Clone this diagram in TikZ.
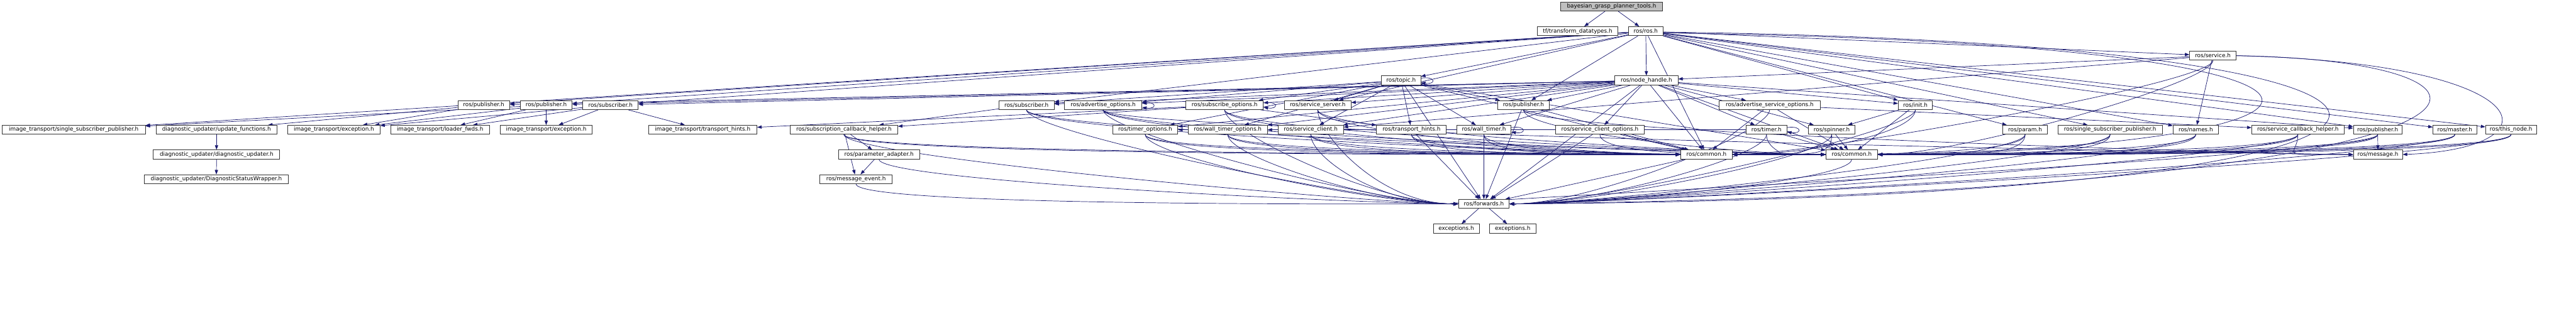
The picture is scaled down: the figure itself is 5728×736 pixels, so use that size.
\documentclass[tikz,border=0pt]{standalone}
\usepackage{fontspec}
\newfontfamily\dvs{DejaVu Sans}
\usetikzlibrary{arrows.meta}
\definecolor{eblue}{HTML}{191970}
\definecolor{bgray}{HTML}{BFBFBF}
\pgfdeclarelayer{backdrop}
\pgfdeclarelayer{edgelayer}
\pgfsetlayers{backdrop,edgelayer,main}
\tikzset{
 box/.style={draw=black!80, fill=white, line width=0.6pt, minimum height=10pt, inner sep=0pt,
   font=\dvs\fontsize{6.2}{7}\selectfont, anchor=center},
 dep/.style={draw=eblue, line width=0.5pt, -{Triangle[length=5pt,width=3.6pt]}},
}
\newcommand\bx[5]{\node[box, minimum width={(#3-#2)*0.5pt}] (#1) at ({(#2+#3)/2},#4) {#5};}
% straight edges
\newcommand\dd[2]{\foreach \t in {#2} {\draw[dep] (#1) -- (\t);}}
% edges entering the target from its left end
\newcommand\dw[2]{\foreach \t in {#2} {\draw[dep] (#1.south) .. controls +(0,50) and ([xshift=-90pt]\t.west) .. (\t.west);}}
% edges entering the target from its right end
\newcommand\de[2]{\foreach \t in {#2} {\draw[dep] (#1.south) .. controls +(0,50) and ([xshift=90pt]\t.east) .. (\t.east);}}
\newcommand\selfloop[1]{\draw[dep] ([yshift=2.5pt]#1.east) .. controls +(34,-5) and +(34,5) .. ([yshift=-2.5pt]#1.east);}
\begin{document}
\begin{tikzpicture}[x=0.5pt,y=-0.5pt]
\begin{pgfonlayer}{backdrop}
\fill[white] (0,0) rectangle (5728,736);
\end{pgfonlayer}
\useasboundingbox (0,0) rectangle (5728,736);
% row 0-2
\node[box, fill=bgray, minimum width={(3697-3470)*0.5pt}] (bg) at ({(3470+3697)/2},14.5) {bayesian\_grasp\_planner\_tools.h};
\bx{tf}{3418}{3598}{69.5}{tf/transform\_datatypes.h}
\bx{ros}{3621}{3698}{69.5}{ros/ros.h}
\bx{service}{4869}{4972}{124}{ros/service.h}
\bx{topic}{3072}{3159}{179}{ros/topic.h}
\bx{nh}{3591}{3731}{179}{ros/node\_handle.h}
% row 3
\bx{pubA}{1018}{1133}{234}{ros/publisher.h}
\bx{pubB}{1157}{1272}{234}{ros/publisher.h}
\bx{subA}{1296}{1419}{234}{ros/subscriber.h}
\bx{subB}{2221}{2344}{234}{ros/subscriber.h}
\bx{advo}{2367}{2539}{234}{ros/advertise\_options.h}
\bx{subo}{2637}{2809}{234}{ros/subscribe\_options.h}
\bx{ssrv}{2856}{3004}{234}{ros/service\_server.h}
\bx{pubC}{3330}{3445}{234}{ros/publisher.h}
\bx{adso}{3823}{4047}{234}{ros/advertise\_service\_options.h}
\bx{init}{4221}{4297}{234}{ros/init.h}
% row 4
\bx{itssp}{5}{323}{289}{image\_transport/single\_subscriber\_publisher.h}
\bx{duuf}{347}{616}{289}{diagnostic\_updater/update\_functions.h}
\bx{itexA}{640}{845}{289}{image\_transport/exception.h}
\bx{itlf}{869}{1088}{289}{image\_transport/loader\_fwds.h}
\bx{itexB}{1112}{1317}{289}{image\_transport/exception.h}
\bx{itth}{1442}{1683}{289}{image\_transport/transport\_hints.h}
\bx{subcb}{1757}{1996}{289}{ros/subscription\_callback\_helper.h}
\bx{tmo}{2474}{2619}{289}{ros/timer\_options.h}
\bx{wtmo}{2642}{2818}{289}{ros/wall\_timer\_options.h}
\bx{sclt}{2842}{2987}{289}{ros/service\_client.h}
\bx{th}{3061}{3216}{289}{ros/transport\_hints.h}
\bx{wt}{3239}{3360}{289}{ros/wall\_timer.h}
\bx{sco}{3459}{3656}{289}{ros/service\_client\_options.h}
\bx{tm}{3883}{3973}{289}{ros/timer.h}
\bx{spin}{4021}{4125}{289}{ros/spinner.h}
\bx{param}{4453}{4553}{289}{ros/param.h}
\bx{ssp}{4576}{4808}{289}{ros/single\_subscriber\_publisher.h}
\bx{names}{4832}{4933}{289}{ros/names.h}
\bx{scbh}{5007}{5212}{289}{ros/service\_callback\_helper.h}
\bx{pubD}{5233}{5341}{289}{ros/publisher.h}
\bx{master}{5410}{5507}{289}{ros/master.h}
\bx{thisn}{5527}{5640}{289}{ros/this\_node.h}
% row 5
\bx{dudu}{341}{622}{344}{diagnostic\_updater/diagnostic\_updater.h}
\bx{padp}{1864}{2045}{344}{ros/parameter\_adapter.h}
\bx{comA}{3737}{3852}{344}{ros/common.h}
\bx{comB}{4060}{4175}{344}{ros/common.h}
\bx{msg}{5233}{5342}{344}{ros/message.h}
% row 6-8
\bx{dsw}{321}{641}{399}{diagnostic\_updater/DiagnosticStatusWrapper.h}
\bx{mev}{1823}{1984}{399}{ros/message\_event.h}
\bx{fwd}{3243}{3356}{454}{ros/forwards.h}
\bx{excA}{3187}{3289}{509}{exceptions.h}
\bx{excB}{3312}{3415}{509}{exceptions.h}

\begin{pgfonlayer}{edgelayer}
\dd{bg}{tf,ros}
\dd{ros}{nh,topic,service,pubA,pubB,pubC,pubD,subA,subB,itssp,ssp,ssrv,init,master,thisn,param,names,comA}
\draw[dep] ([yshift=-2pt]ros.east) .. controls (5385,95) and (5380,320) .. (comB.east);
\draw[dep] ([yshift=-1pt]ros.east) .. controls (5725,95) and (5725,440) .. (fwd.east);
\dd{nh}{fwd,pubA,pubB,pubC,pubD,subA,subB,ssrv,sclt,tm,wt,advo,adso,subo,sco,tmo,wtmo,spin,init,comA,comB}
\dd{topic}{fwd,pubC,subB,ssrv,sclt,wt,advo,subo,wtmo,tmo,th,comA,comB}
\dd{service}{nh,names,sclt}
\de{service}{comA,comB}
\draw[dep] (service.east) .. controls (5700,135) and (5712,425) .. (fwd.east);
\draw[dep] (service.east) .. controls (5650,140) and (5700,330) .. (msg.east);
\dd{pubA}{duuf,itexA}
\dd{pubB}{itssp,itexA,itexB,itlf}
\dd{subA}{itexA,itexB,itlf,itth}
\dd{pubC}{fwd,comA}
\dw{pubC}{comB,msg}
\dd{pubD}{msg}
\dw{pubD}{fwd}
\de{pubD}{comA,comB}
\dd{subB}{subcb}
\dw{subB}{fwd,comA,comB}
\dw{ssrv}{fwd,comA,comB}
\dw{sclt}{fwd,comA,comB}
\dd{tm}{tmo}
\de{tm}{fwd,comA}
\dd{tm}{comB}
\dd{wt}{wtmo,fwd}
\dw{wt}{comA,comB}
\dw{advo}{fwd,comA,comB,msg}
\dd{adso}{scbh,comA,comB}
\de{adso}{fwd}
\dd{subo}{th,itth,subcb}
\dw{subo}{fwd,comA,comB}
\dd{sco}{fwd,comA}
\dw{sco}{comB}
\dw{tmo}{fwd,comA,comB}
\dw{wtmo}{fwd,comA,comB}
\dd{spin}{comB}
\de{spin}{fwd,comA}
\dd{init}{spin,comB}
\de{init}{fwd,comA}
\dd{th}{fwd}
\dw{th}{comA,comB}
\dd{subcb}{padp,mev}
\dw{subcb}{fwd,comA,comB}
\dd{padp}{mev}
\dw{padp}{fwd}
\dw{mev}{fwd}
\dw{scbh}{msg}
\de{scbh}{fwd,comA,comB}
\de{master}{fwd,comA,comB}
\de{thisn}{fwd,comA,comB}
\de{param}{fwd,comA,comB}
\de{names}{fwd,comA,comB}
\de{ssp}{fwd,comA,comB}
\dd{comA}{fwd}
\de{comB}{fwd}
\dd{fwd}{excA,excB}
\dd{duuf}{dudu}
\dd{dudu}{dsw}
\selfloop{topic}
\selfloop{advo}
\selfloop{subo}
\selfloop{wt}
\selfloop{tm}
\end{pgfonlayer}
\end{tikzpicture}
\end{document}
